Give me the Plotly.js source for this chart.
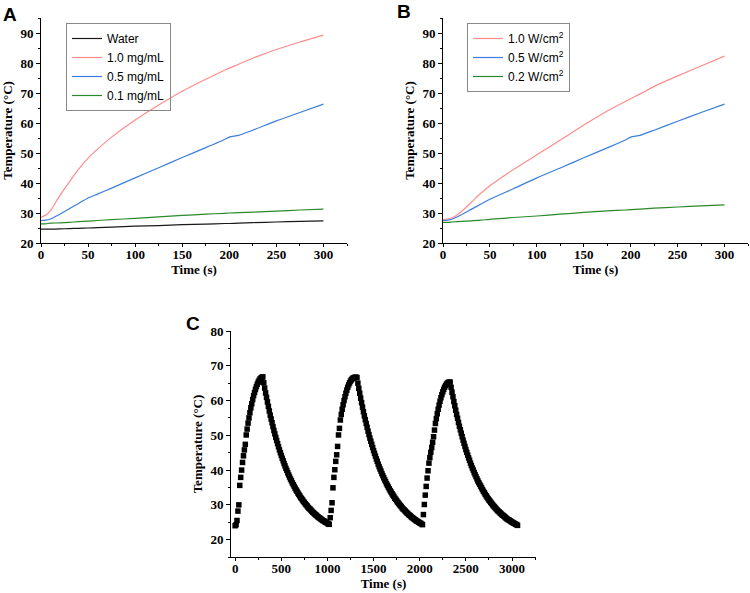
<!DOCTYPE html>
<html>
<head>
<meta charset="utf-8">
<script src="https://cdn.plot.ly/plotly-3.0.1.min.js"></script>
<style>
  html, body { margin: 0; padding: 0; background: #fff; }
  #chart { width: 750px; height: 593px; }
</style>
</head>
<body>
<div id="chart"></div>
<script>
// sample times (s) for panels A and B
const timeAB = [0, 5, 10, 20, 30, 40, 50, 60, 75, 100, 125, 150, 175, 195, 200, 210, 225, 250, 275, 300];

// panel A: concentration series (°C)
const waterA = [24.6, 24.6, 24.6, 24.7, 24.8, 24.9, 25.0, 25.1, 25.3, 25.6, 25.8, 26.1, 26.3, 26.5, 26.5, 26.6, 26.8, 27.0, 27.2, 27.4];
const conc10A = [28.5, 29.3, 30.8, 35.8, 40.3, 44.6, 48.3, 51.3, 55.3, 61.0, 66.0, 70.6, 74.6, 77.6, 78.3, 79.6, 81.6, 84.5, 87.0, 89.3];
const conc05A = [27.5, 27.6, 28.0, 29.6, 31.4, 33.2, 35.0, 36.3, 38.3, 41.7, 45.1, 48.5, 51.8, 54.5, 55.3, 55.9, 57.6, 60.7, 63.5, 66.3];
const conc01A = [26.4, 26.4, 26.6, 26.7, 26.9, 27.1, 27.3, 27.5, 27.8, 28.2, 28.7, 29.2, 29.6, 29.9, 30.0, 30.1, 30.3, 30.6, 31.0, 31.3];
const namesA = ['Water', '1.0 mg/mL', '0.5 mg/mL', '0.1 mg/mL'];

// panel B: power density series (°C)
const pow10B = [27.8, 28.0, 28.4, 30.6, 33.5, 36.5, 39.1, 41.3, 44.5, 49.4, 54.3, 59.3, 64.0, 67.3, 68.1, 69.7, 72.2, 75.7, 79.0, 82.3];
const pow05B = [27.5, 27.6, 28.0, 29.5, 31.2, 32.9, 34.6, 36.0, 38.1, 41.7, 45.0, 48.4, 51.7, 54.4, 55.3, 55.9, 57.6, 60.6, 63.5, 66.3];
const pow02B = [26.9, 26.9, 27.0, 27.2, 27.4, 27.6, 27.9, 28.1, 28.5, 29.0, 29.6, 30.2, 30.7, 31.0, 31.1, 31.3, 31.6, 32.0, 32.4, 32.7];
const namesB = ['1.0 W/cm<sup>2</sup>', '0.5 W/cm<sup>2</sup>', '0.2 W/cm<sup>2</sup>'];

// panel C: on/off cycles, one reading every 10 s from 0 s to 3060 s
const sampleStepC = 10;
const heat1 = [24.0, 24.3, 25.5, 28.2, 30.0, 35.6, 37.9, 40.0, 42.2, 44.1, 45.8, 47.4, 50.1, 51.8, 53.5, 55.0, 56.5, 57.9, 59.1, 60.3,
  61.4, 62.3, 63.2, 64.0, 64.7, 65.3, 65.8, 66.2, 66.5, 66.7, 66.8];
const cool1 = [65.1, 63.6, 62.2, 60.9, 59.6, 58.3, 57.0, 55.8, 54.7, 53.6, 52.5, 51.4, 50.4, 49.4, 48.5, 47.6, 46.7, 45.8, 45.0, 44.2,
  43.4, 42.7, 41.9, 41.2, 40.5, 39.9, 39.2, 38.6, 38.0, 37.4, 36.9, 36.3, 35.8, 35.3, 34.8, 34.3, 33.9, 33.4, 33.0, 32.6,
  32.1, 31.8, 31.4, 31.0, 30.7, 30.3, 30.0, 29.7, 29.3, 29.0, 28.8, 28.5, 28.2, 27.9, 27.7, 27.4, 27.2, 27.0, 26.7, 26.5,
  26.3, 26.1, 25.9, 25.7, 25.5, 25.4, 25.2, 25.0, 24.9, 24.7, 24.5, 24.4];
const heat2 = [26.3, 28.4, 30.6, 34.9, 37.9, 40.1, 42.5, 44.4, 46.8, 50.1, 52.0, 54.4, 56.0, 57.5, 58.8, 60.0, 61.1, 62.1, 63.0, 63.8,
  64.5, 65.1, 65.6, 66.0, 66.3, 66.5, 66.6, 66.7, 66.7, 66.6];
const cool2 = [65.0, 63.5, 62.1, 60.7, 59.4, 58.1, 56.8, 55.6, 54.5, 53.4, 52.3, 51.2, 50.2, 49.2, 48.3, 47.4, 46.5, 45.6, 44.8, 44.0,
  43.2, 42.5, 41.7, 41.0, 40.3, 39.7, 39.0, 38.4, 37.8, 37.2, 36.7, 36.1, 35.6, 35.1, 34.6, 34.1, 33.7, 33.2, 32.8, 32.4,
  31.9, 31.6, 31.2, 30.8, 30.5, 30.1, 29.8, 29.5, 29.1, 28.8, 28.6, 28.3, 28.0, 27.7, 27.5, 27.2, 27.0, 26.8, 26.5, 26.3,
  26.1, 25.9, 25.7, 25.5, 25.3, 25.2, 25.0, 24.8, 24.7, 24.5, 24.3];
const heat3 = [27.2, 30.1, 32.8, 35.3, 37.7, 39.8, 42.0, 43.6, 45.1, 46.5, 48.0, 49.6, 51.5, 53.4, 54.8, 56.2, 57.5, 58.7, 59.8, 60.8,
  61.7, 62.5, 63.2, 63.8, 64.3, 64.7, 65.0, 65.2, 65.3, 65.3];
const cool3 = [63.8, 62.4, 61.1, 59.7, 58.5, 57.2, 56.0, 54.9, 53.7, 52.6, 51.6, 50.6, 49.6, 48.6, 47.7, 46.8, 45.9, 45.1, 44.3, 43.5,
  42.8, 42.0, 41.3, 40.6, 40.0, 39.3, 38.7, 38.1, 37.5, 36.9, 36.4, 35.9, 35.4, 34.9, 34.4, 33.9, 33.5, 33.0, 32.6, 32.2,
  31.8, 31.4, 31.1, 30.7, 30.4, 30.0, 29.7, 29.4, 29.1, 28.8, 28.5, 28.2, 28.0, 27.7, 27.5, 27.2, 27.0, 26.8, 26.6, 26.3,
  26.1, 25.9, 25.7, 25.6, 25.4, 25.2, 25.0, 24.9, 24.7, 24.6, 24.4, 24.3, 24.1];

const tempC = [].concat(heat1, cool1, heat2, cool2, heat3, cool3);
const timeC = tempC.map((v, i) => i * sampleStepC);

const colors = { black: '#1a1a1a', pink: '#ff8c8c', blue: '#3a7fdc', green: '#2a8a2a' };
const serif = '"Liberation Serif", "Times New Roman", serif';
const sans = '"Liberation Sans", Arial, sans-serif';
const W = 750, H = 593;

function xAxis(px0, px1, range, dtick, minor, anchor) {
    return {
        domain: [px0 / W, px1 / W],
        anchor: anchor,
        range: range,
        dtick: dtick,
        tick0: 0,
        showline: true,
        linecolor: '#000',
        linewidth: 1,
        ticks: 'outside',
        ticklen: 3,
        tickcolor: '#000',
        ticklabelstandoff: -4,
        minor: { dtick: minor, ticks: 'outside', ticklen: 2, tickcolor: '#000' },
        showgrid: false,
        zeroline: false,
        tickfont: { family: serif, size: 13, color: '#000', weight: 'bold' },
        title: { text: 'Time (s)', font: { family: serif, size: 13, color: '#000', weight: 'bold' }, standoff: 4 },
    };
}

function yAxis(py0, py1, range, anchor) {
    return {
        domain: [1 - py1 / H, 1 - py0 / H],
        anchor: anchor,
        range: range,
        dtick: 10,
        showline: true,
        linecolor: '#000',
        linewidth: 1,
        ticks: 'outside',
        ticklen: 4,
        tickcolor: '#000',
        minor: { dtick: 5, ticks: 'outside', ticklen: 2.5, tickcolor: '#000' },
        showgrid: false,
        zeroline: false,
        tickfont: { family: serif, size: 13, color: '#000', weight: 'bold' },
        title: { text: 'Temperature (°C)', font: { family: serif, size: 13, color: '#000', weight: 'bold' }, standoff: 4 },
    };
}

const smoothLine = (color) => ({ color: color, width: 1.2, shape: 'spline', smoothing: 0.6 });

const traces = [
    { x: timeAB, y: waterA, name: namesA[0], line: smoothLine(colors.black) },
    { x: timeAB, y: conc10A, name: namesA[1], line: smoothLine(colors.pink) },
    { x: timeAB, y: conc05A, name: namesA[2], line: smoothLine(colors.blue) },
    { x: timeAB, y: conc01A, name: namesA[3], line: smoothLine(colors.green) },
    { x: timeAB, y: pow10B, name: namesB[0], xaxis: 'x2', yaxis: 'y2', legend: 'legend2', line: smoothLine(colors.pink) },
    { x: timeAB, y: pow05B, name: namesB[1], xaxis: 'x2', yaxis: 'y2', legend: 'legend2', line: smoothLine(colors.blue) },
    { x: timeAB, y: pow02B, name: namesB[2], xaxis: 'x2', yaxis: 'y2', legend: 'legend2', line: smoothLine(colors.green) },
    {
        x: timeC, y: tempC, xaxis: 'x3', yaxis: 'y3', mode: 'markers', showlegend: false,
        marker: { symbol: 'square', size: 5.5, color: '#000' },
    },
].map(t => Object.assign({ type: 'scatter', mode: 'lines' }, t));

const legendStyle = {
    xanchor: 'left',
    yanchor: 'top',
    bgcolor: 'rgba(255,255,255,0)',
    bordercolor: '#888',
    borderwidth: 1,
    font: { family: sans, size: 12, color: '#000' },
};

const letter = (text, px, py) => ({
    text: text, xref: 'paper', yref: 'paper', x: px / W, y: 1 - py / H,
    showarrow: false, xanchor: 'center', yanchor: 'middle',
    font: { family: sans, size: 19, color: '#000', weight: 'bold' },
});

const layout = {
    width: W,
    height: H,
    margin: { t: 0, l: 0, r: 0, b: 0 },
    paper_bgcolor: '#fff',
    plot_bgcolor: '#fff',
    xaxis: xAxis(41, 347, [0, 325], 50, 25, 'y'),
    yaxis: yAxis(18, 243, [20, 95], 'x'),
    xaxis2: xAxis(443, 748, [0, 325], 50, 25, 'y2'),
    yaxis2: yAxis(18, 243, [20, 95], 'x2'),
    xaxis3: xAxis(231, 536, [-45, 3260], 500, 250, 'y3'),
    yaxis3: yAxis(331, 557, [15, 80], 'x3'),
    legend: Object.assign({ x: 66 / W, y: 1 - 23 / H }, legendStyle),
    legend2: Object.assign({ x: 467 / W, y: 1 - 23 / H }, legendStyle),
    annotations: [letter('A', 10, 14), letter('B', 404, 12), letter('C', 193, 323)],
};

Plotly.newPlot('chart', traces, layout, { displayModeBar: false, staticPlot: true });
</script>
</body>
</html>
